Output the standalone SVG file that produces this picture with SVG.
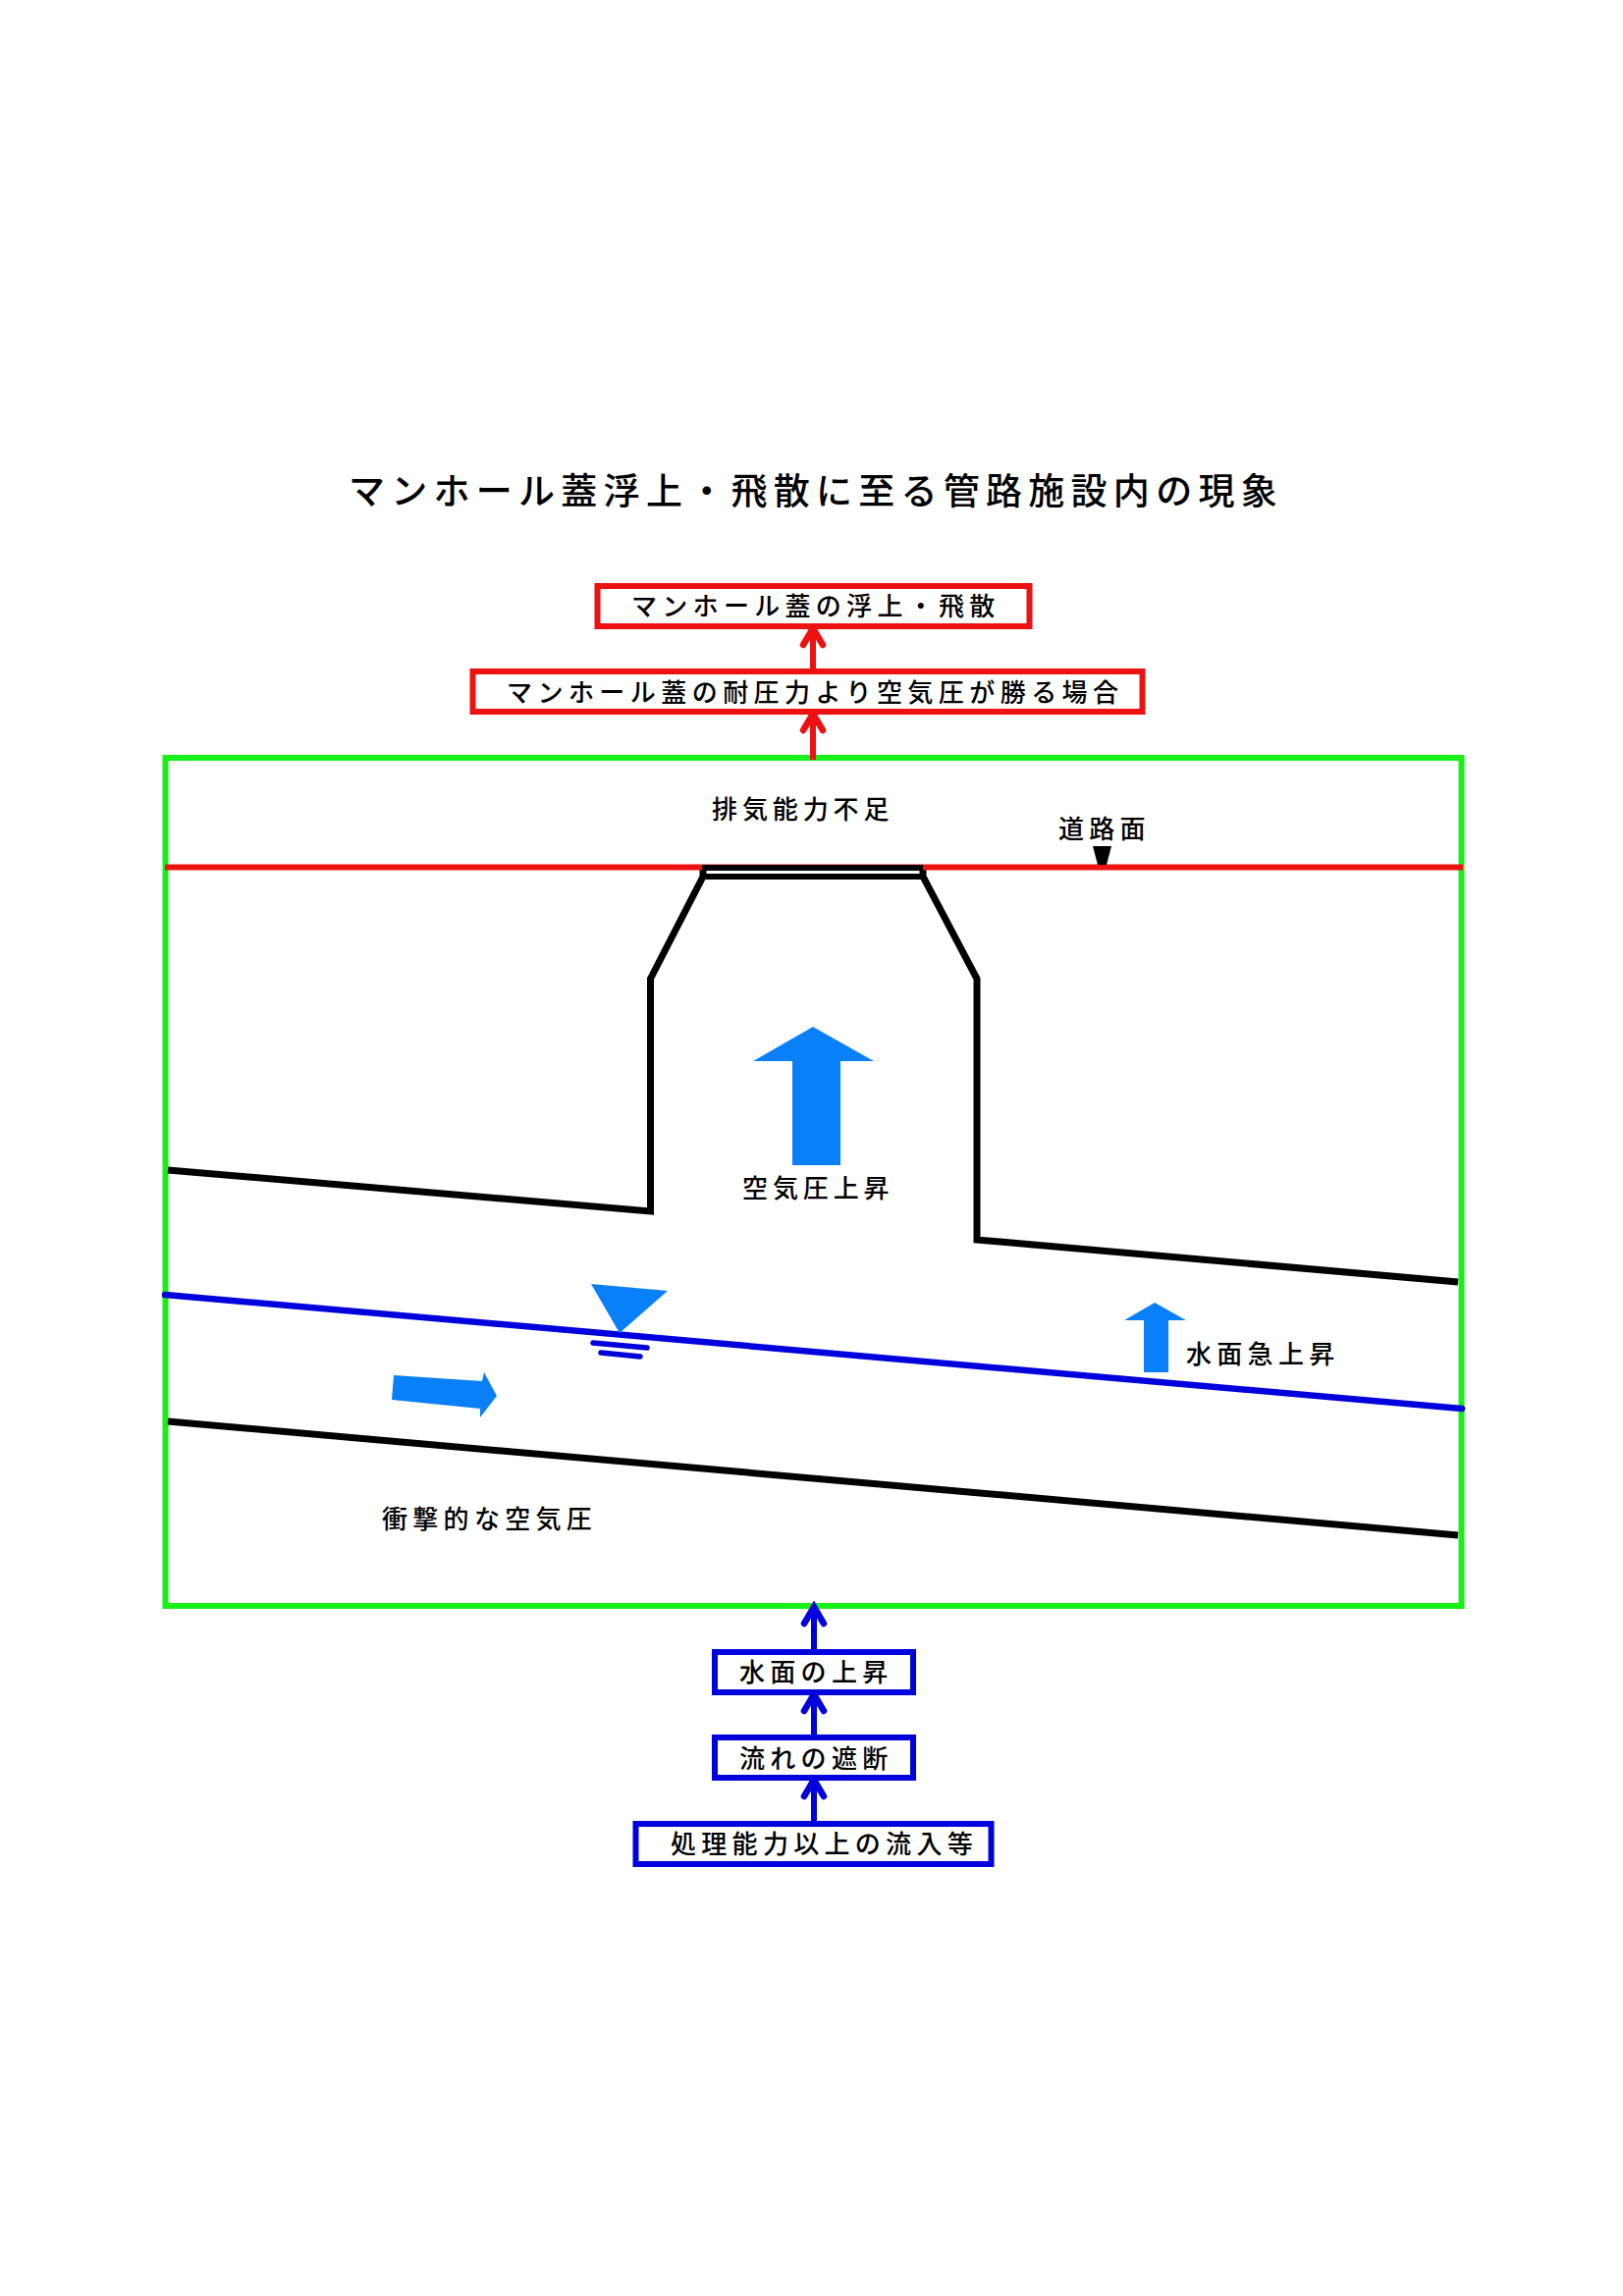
<svg xmlns="http://www.w3.org/2000/svg" width="1653" height="2339" viewBox="0 0 1653 2339">
<style>
text{font-family:"Noto Sans CJK JP","Noto Sans CJK SC",sans-serif;fill:#000;font-size:26px;letter-spacing:5.3px;font-weight:500}
.title{font-size:37px;letter-spacing:6.27px}
.r{fill:#fff;stroke:#ee1111;stroke-width:6}
.b{fill:#fff;stroke:#0000dd;stroke-width:6}
.f{fill:#0a80f8}
.k{fill:none;stroke:#000;stroke-width:7;stroke-linejoin:miter}
.bl{fill:none;stroke:#0000dd;stroke-linecap:round}
.cr{stroke:#ee1111;stroke-width:6;fill:none}
.cb{stroke:#0000dd;stroke-width:6;fill:none}
</style>
<defs>
<marker id="ar" markerUnits="userSpaceOnUse" markerWidth="40" markerHeight="40" refX="20" refY="20" viewBox="0 0 40 40" orient="auto" overflow="visible"><path d="M3,10 L20,20 L3,30" fill="none" stroke="#ee1111" stroke-width="6.500" stroke-linecap="round"/></marker>
<marker id="ab" markerUnits="userSpaceOnUse" markerWidth="40" markerHeight="40" refX="20" refY="20" viewBox="0 0 40 40" orient="auto" overflow="visible"><path d="M3,10 L20,20 L3,30" fill="none" stroke="#0000dd" stroke-width="6.500" stroke-linecap="round"/></marker>
</defs>
<rect width="1653" height="2339" fill="#fff"/>
<text id="title" class="title" x="355" y="514">マンホール蓋浮上・飛散に至る管路施設内の現象</text>
<g id="frame"><rect x="168.500" y="772" width="1320" height="864" fill="#fff" stroke="#18f018" stroke-width="6"/></g>
<g id="scene">
<path class="k" d="M171,1192 L662.500,1234 V997 L716,893 V884 M940,884 V893 L995,997 V1263 L1485,1306"/>
<path class="k" d="M171,1448 L1485,1564"/>
<path d="M168,883.500 H1490" stroke="#ee1111" stroke-width="6" fill="none"/>
<path d="M715,884 H940 M716,893 H940" stroke="#000" stroke-width="6" fill="none"/>
<path d="M1113,862 H1132 L1127,881 H1118 Z" fill="#000"/>
<path class="bl" stroke-width="6.500" d="M168,1319 L1489,1435"/>
<path class="bl" stroke-width="5.500" d="M604,1368 L659,1373 M612,1378 L652,1382"/>
<path class="f" d="M602,1308 L680,1315 L631,1358 Z"/>
<path class="f" d="M401,1401 L491,1407 L493,1398 L506,1422 L489,1444 L489,1435 L399,1426 Z"/>
<path class="f" d="M828,1046 L890,1081 H856 V1187 H807 V1081 H767 Z"/>
<path class="f" d="M1176,1327 L1208,1345 H1190 V1398 H1165 V1345 H1145 Z"/>
<text x="725" y="834" style="letter-spacing:4.900px">排気能力不足</text>
<text x="1078" y="854">道路面</text>
<text x="756" y="1220" style="letter-spacing:4.900px">空気圧上昇</text>
<text x="1208" y="1389">水面急上昇</text>
<text x="389" y="1557">衝撃的な空気圧</text>
</g>
<g id="connectors">
<path class="cr" marker-end="url(#ar)" d="M828,681 V640"/>
<path class="cr" marker-end="url(#ar)" d="M828,774 V727"/>
<path class="cb" marker-end="url(#ab)" d="M829,1680 V1637"/>
<path class="cb" marker-end="url(#ab)" d="M829,1767 V1726"/>
<path class="cb" marker-end="url(#ab)" d="M829,1855 V1813"/>
</g>
<g id="node-lid-float"><rect class="r" x="608.500" y="597" width="440" height="41"/><text x="643" y="627">マンホール蓋の浮上・飛散</text></g>
<g id="node-pressure"><rect class="r" x="481.500" y="684" width="682" height="41"/><text x="516" y="714.500" style="letter-spacing:5.450px">マンホール蓋の耐圧力より空気圧が勝る場合</text></g>
<g id="node-water-rise"><rect class="b" x="728" y="1683" width="202" height="41"/><text x="753" y="1712.500">水面の上昇</text></g>
<g id="node-block"><rect class="b" x="728" y="1770" width="202" height="41"/><text x="753" y="1800.500">流れの遮断</text></g>
<g id="node-inflow"><rect class="b" x="647.500" y="1858" width="362" height="41"/><text x="683" y="1887.500">処理能力以上の流入等</text></g>
</svg>
